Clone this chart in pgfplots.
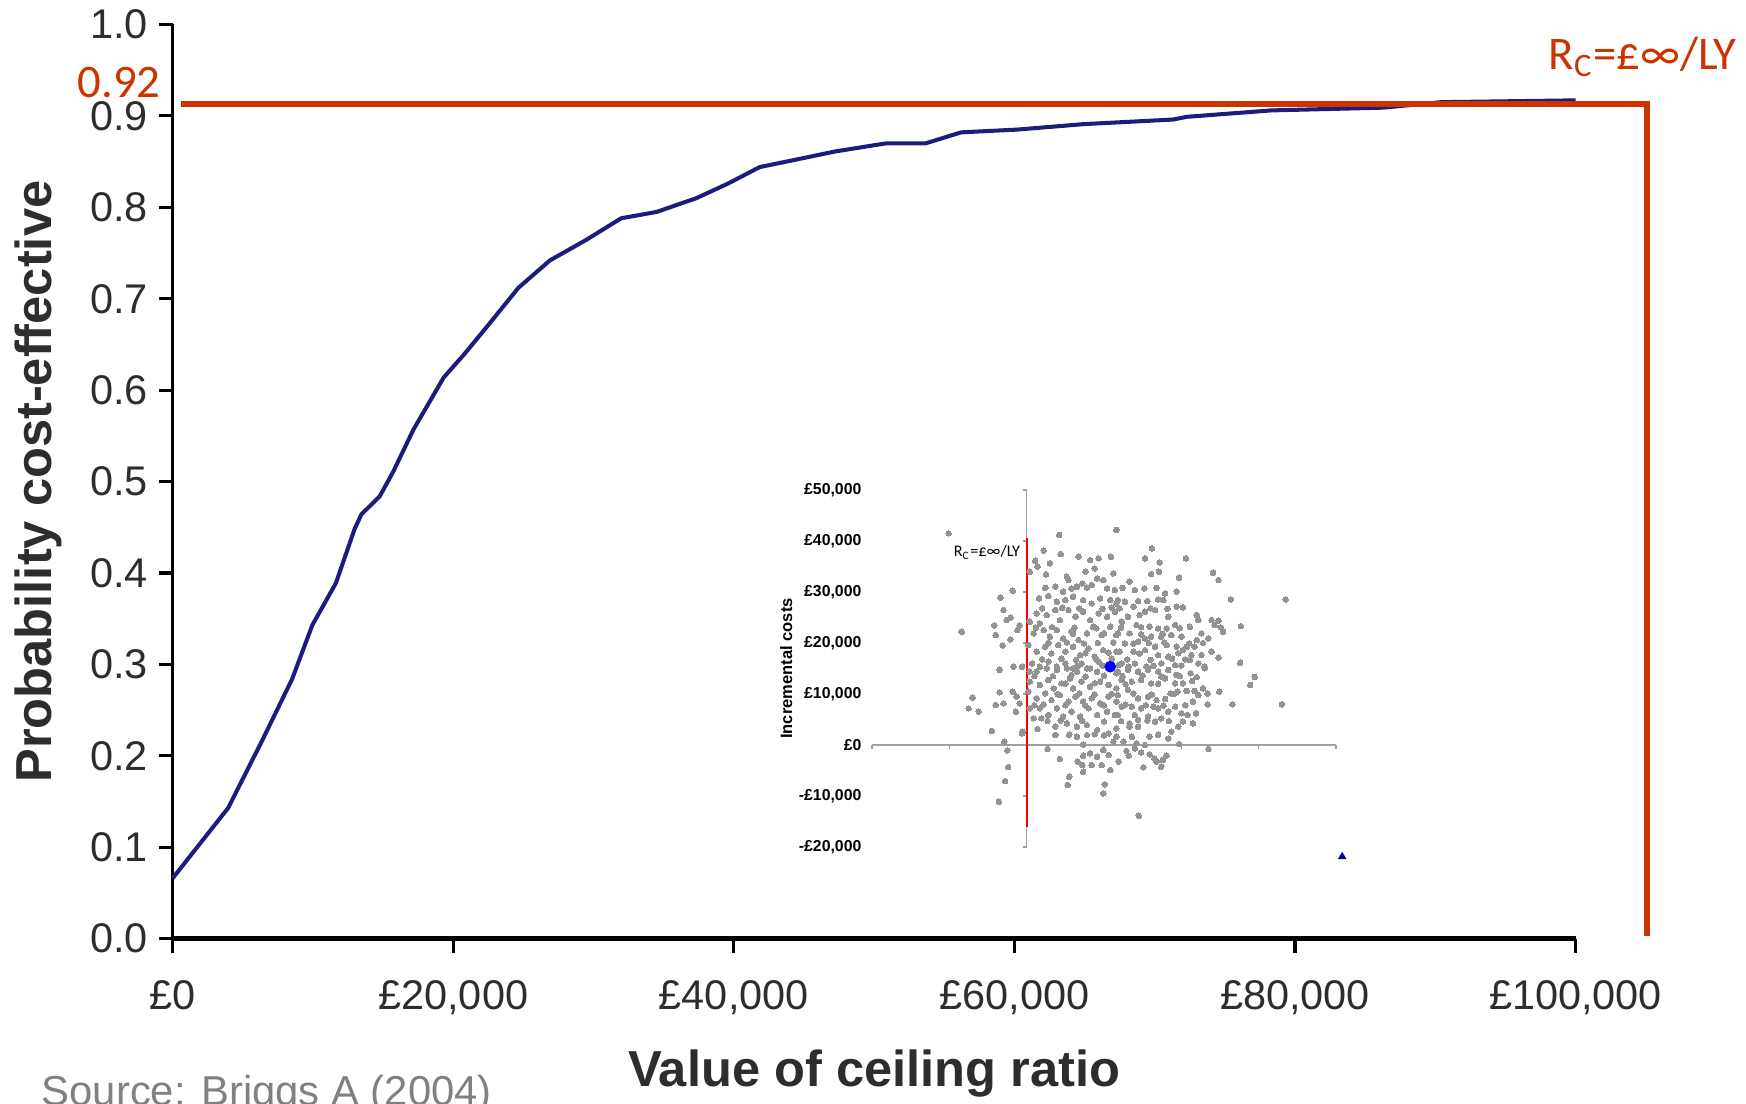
\documentclass[border=0pt]{standalone}
\usepackage{pgfplots}
\pgfplotsset{compat=1.18}
\usepackage{pgfplotstable}
\usepackage{fontspec}
\setmainfont{Liberation Sans}
\newfontfamily\calibri{Carlito}
\definecolor{curve}{RGB}{28,28,125}
\definecolor{refred}{RGB}{204,51,0}
\definecolor{insetred}{RGB}{255,0,0}
\definecolor{ptgray}{RGB}{145,148,145}
\definecolor{axgray}{RGB}{160,160,160}
\definecolor{tickgray}{RGB}{45,45,45}
\definecolor{srcgray}{RGB}{128,128,128}

\pgfplotstableread{
x y
0 0.066
3960 0.143
6360 0.216
8520 0.284
9960 0.343
11640 0.389
12970 0.448
13450 0.464
14770 0.484
15730 0.511
17170 0.557
19330 0.614
20770 0.639
22330 0.668
24650 0.712
26900 0.742
29440 0.764
31970 0.788
34510 0.795
37330 0.810
39590 0.826
41840 0.844
44380 0.852
47190 0.861
50860 0.870
53680 0.870
56210 0.882
60180 0.885
64950 0.891
71300 0.896
72300 0.899
78300 0.906
86260 0.909
90400 0.915
100000 0.917
}\ceac

\pgfplotstableread{
x y
-1.01 41500
-0.84 22200
-0.34 28880
-0.18 30250
-0.30 26460
-0.21 24960
-0.42 23450
-0.40 21560
-0.31 19530
-0.12 22540
-0.09 23450
-0.21 20710
-0.17 15340
-0.35 14820
-0.06 15340
-0.26 24500
0.42 41180
1.16 42160
0.22 38100
0.44 37450
0.67 36930
0.82 36270
0.93 36600
1.09 36930
0.11 36140
0.14 34960
0.04 33980
0.25 33460
0.30 35620
0.52 33000
0.76 33980
0.88 34640
0.99 32350
1.12 33660
0.37 31040
0.54 32350
0.65 31040
0.72 31690
0.84 31370
0.91 32670
1.04 30710
1.14 30390
0.16 28750
0.28 29210
0.39 28100
0.47 30060
0.50 28420
0.60 29080
0.73 28420
0.84 27770
0.95 28750
1.08 28420
1.16 27770
0.13 25810
0.04 24170
0.17 23850
0.26 25480
0.37 26460
0.43 24500
0.54 26460
0.63 25150
0.73 26140
0.82 24500
0.93 25810
1.04 25150
1.14 26140
0.09 21890
0.22 22540
0.30 21230
0.39 22540
0.47 20900
0.58 22210
0.67 20580
0.78 21890
0.86 23190
0.97 21560
1.08 23190
1.16 21560
0.02 19600
0.13 18290
0.24 19270
0.32 17960
0.41 19600
0.50 18290
0.60 19270
0.69 17630
0.80 18940
0.88 17310
0.99 18610
1.16 18290
0.07 15990
0.17 15340
0.28 16320
0.39 15340
0.50 15990
0.60 15020
0.71 15990
0.82 15020
0.93 16320
1.19 15670
1.62 38560
1.53 36600
1.72 35810
2.06 36600
1.61 33530
1.71 33980
2.41 33790
2.48 32350
1.33 32020
1.97 32810
1.40 30390
1.79 29730
1.94 30060
2.64 28550
3.35 28550
1.18 28420
1.27 28100
1.44 28230
1.56 28230
1.70 28550
1.77 28420
1.94 27120
2.02 26990
1.20 26790
1.38 27120
1.66 26460
1.53 26140
1.31 25150
1.46 25480
1.83 25150
2.20 25480
2.22 24500
2.39 24500
2.48 24370
1.23 24170
1.42 23520
1.59 23190
1.70 22860
1.81 22860
1.92 23520
2.11 23190
2.43 23520
2.51 23060
2.54 22210
2.77 23320
1.18 21890
1.33 21890
1.53 20900
1.61 21230
1.74 21230
1.87 21560
2.00 21230
2.20 20580
2.35 20900
1.27 19920
1.44 20250
1.66 19270
1.81 19600
1.94 19270
2.07 19270
2.17 19270
1.20 18290
1.38 18290
1.53 18610
1.70 17630
1.83 17310
2.02 18610
2.13 17630
2.26 17630
2.39 18290
2.48 17170
2.76 16130
1.23 15990
1.40 15990
1.55 15340
1.74 15990
1.92 15670
2.11 16650
2.22 15990
2.30 15340
-0.35 14710
-0.17 15360
-0.70 9280
-0.75 7190
-0.62 6530
-0.35 10330
-0.40 7840
-0.30 8170
-0.18 10460
-0.13 9480
-0.09 8170
-0.14 6530
-0.45 2740
-0.06 2280
-0.29 650
-0.25 -1050
-0.24 -4320
-0.28 -7070
-0.36 -11120
0.04 14380
0.13 14380
0.26 15040
0.39 14710
0.52 15040
0.65 14380
0.78 15040
0.91 14380
1.16 14060
0.04 12420
0.17 11770
0.28 12750
0.35 11110
0.45 12090
0.56 13070
0.60 11110
0.71 12420
0.82 11440
0.95 12420
1.06 11770
1.16 11110
0.02 10460
0.13 9150
0.24 10130
0.32 8820
0.43 9800
0.54 8500
0.63 9480
0.73 8500
0.84 9150
0.95 8170
1.06 9480
1.16 8500
0.04 7190
0.17 7190
0.28 5880
0.39 7190
0.47 5550
0.58 6530
0.69 5550
0.80 7190
0.91 5880
1.04 6530
1.14 5880
0.09 5230
0.14 3130
0.19 5230
0.37 3590
0.52 4250
0.65 3590
0.78 3920
0.91 2940
1.06 2280
1.16 3260
-0.05 2610
0.37 1960
0.65 1630
0.78 1960
1.12 650
0.27 -790
0.43 -2750
0.73 80
0.82 -1640
0.73 -2100
0.66 -3280
0.72 -3930
0.73 -5240
0.84 -3930
0.91 -2290
0.99 -990
1.06 -1970
0.97 -3930
1.08 -4910
0.55 -6220
0.53 -7850
1.01 -7720
0.99 -9490
2.30 15040
2.12 14060
2.95 13340
2.89 11770
1.18 14380
1.31 14710
1.44 14380
1.57 14710
1.70 14380
1.83 14710
1.94 13730
1.23 12750
1.36 12420
1.48 12750
1.61 12090
1.79 13070
1.92 12090
2.14 12550
2.28 11110
2.17 10590
2.07 10590
1.95 10460
1.86 10130
2.49 10460
2.34 10070
1.18 9800
1.31 10790
1.44 9150
1.57 9480
1.68 8820
1.79 9020
2.15 8500
2.34 7970
2.66 7970
3.30 7970
1.23 7520
1.36 7520
1.48 7190
1.64 7520
1.70 7190
1.83 6530
1.92 7520
2.00 6210
2.08 5880
2.19 6210
1.18 5880
1.40 5880
1.57 5550
1.74 5230
1.96 3590
2.15 4250
1.33 4250
1.44 4900
1.66 4570
1.33 3590
1.44 3590
1.87 2610
1.16 1630
1.36 1630
1.59 1630
1.83 1300
1.25 650
1.42 320
1.53 0
1.97 190
2.35 -790
1.29 -1180
1.40 -660
1.48 -1450
1.59 -1840
1.32 -2100
1.65 -2620
1.68 -3280
1.81 -2100
1.76 -2950
1.19 -3280
1.51 -4390
1.74 -4260
1.45 -13870
0.10 13500
0.34 13500
0.58 13700
0.76 13400
1.00 13600
1.24 13500
1.50 13600
1.74 13400
1.98 13500
2.20 13300
0.20 16800
0.45 16900
0.64 16700
0.90 16800
1.10 16900
1.30 16800
1.60 16700
1.88 16900
2.05 16800
0.28 20000
0.52 20100
0.74 19900
0.92 20000
1.12 20100
1.38 19900
1.58 20000
1.78 20100
2.10 19900
2.28 20000
0.12 23000
0.33 23100
0.62 23000
0.90 22900
1.22 23000
1.48 23100
1.98 22900
0.40 10000
0.68 10100
0.88 9900
1.10 10000
1.38 10100
1.62 9900
1.90 10000
2.22 9800
0.10 7800
0.22 7900
0.50 7800
0.76 7700
1.00 7800
1.28 7900
1.54 7800
1.77 7700
2.05 7800
0.27 4700
0.44 4800
0.72 4700
1.00 4600
1.22 4700
1.56 4800
1.84 4700
2.02 4600
0.20 26800
0.46 26900
0.68 26800
0.98 26700
1.10 26900
1.60 26800
1.82 26700
0.24 30800
0.58 30700
0.78 30900
1.24 30800
1.52 30700
1.68 30800
0.55 2000
0.88 2100
1.00 1900
1.70 2000
0.50 12000
0.88 12100
1.28 11900
1.70 12000
2.02 12100
0.76 18000
1.06 18100
1.46 17900
1.96 18000
0.60 21800
1.00 21900
1.48 21700
1.76 21800
2.26 21900
0.66 15500
0.98 15600
1.32 15400
1.64 15500
2.00 15600
}\scatter

\begin{document}
\begin{tikzpicture}
\begin{axis}[
  scale only axis,
  width=14.03cm, height=9.142cm,
  xmin=0, xmax=100000, ymin=0, ymax=1,
  axis x line=bottom, axis y line=left,
  axis line style={-, black, line width=0.9pt},
  x axis line style={line width=1.3pt},
  tick align=outside,
  major tick length=0.14cm,
  tick style={black, line width=0.9pt},
  scaled x ticks=false,
  xtick={0,20000,40000,60000,80000,100000},
  xticklabels={{£0},{£20,000},{£40,000},{£60,000},{£80,000},{£100,000}},
  ytick={0,0.1,0.2,0.3,0.4,0.5,0.6,0.7,0.8,0.9,1},
  yticklabels={0.0,0.1,0.2,0.3,0.4,0.5,0.6,0.7,0.8,0.9,1.0},
  ticklabel style={font=\fontsize{11.8}{14}\selectfont, text=tickgray},
  xticklabel style={anchor=north, yshift=-4.5pt},
  yticklabel style={anchor=east, xshift=0.5pt},
  xlabel={Value of ceiling ratio},
  ylabel={Probability cost-effective},
  label style={font=\bfseries\fontsize{14.4}{17}\selectfont, text=tickgray},
  xlabel style={at={(axis description cs:0.5,-0.162)}, anchor=base},
  ylabel style={at={(axis description cs:-0.096,0.5)}, anchor=center, rotate=0},
  clip=false,
]
\addplot[curve, line width=1.15pt, line join=round] table {\ceac};
\addplot[refred, line width=1.8pt, line join=miter] coordinates {(634,0.913) (105100,0.913) (105100,0.003)};
\node[inner sep=0pt, anchor=base east, text=refred, font=\calibri\fontsize{13.3}{16}\selectfont] at (axis cs:-800,0.92) {0.92};
\node[inner sep=0pt, anchor=base west, text=refred, font=\calibri\fontsize{13.3}{16}\selectfont] at (axis cs:98030,0.951) {R\textsubscript{C}=£∞/LY};
\node[inner sep=0pt, anchor=base west, text=srcgray, font=\fontsize{11.9}{14}\selectfont] at (axis cs:-9380,-0.1825) {Source: Briggs A (2004)};
\end{axis}

\begin{axis}[
  at={(6.994cm,0.917cm)}, anchor=south west,
  scale only axis,
  width=4.64cm, height=3.57cm,
  xmin=-2, xmax=4, ymin=-20000, ymax=50000,
  axis line style={draw=none},
  xtick=\empty,
  ytick={-20000,-10000,0,10000,20000,30000,40000,50000},
  yticklabels={{-£20,000},{-£10,000},{£0},{£10,000},{£20,000},{£30,000},{£40,000},{£50,000}},
  ytick pos=left,
  major tick length=0pt,
  tick style={draw=none},
  yticklabel style={font=\bfseries\fontsize{4.5}{5}\selectfont, anchor=east, xshift=0.5pt},
  scaled y ticks=false,
  ylabel={Incremental costs},
  ylabel style={font=\bfseries\fontsize{4.7}{5.5}\selectfont, at={(axis description cs:-0.185,0.5)}, anchor=center},
  clip=false,
]
\draw[axgray, line width=0.35pt] (axis cs:-2,0) -- (axis cs:4,0);
\draw[axgray, line width=0.35pt] (axis cs:0,-20000) -- (axis cs:0,50000);
\pgfplotsinvokeforeach{-2,-1,1,2,3,4}{\draw[axgray, line width=0.35pt] (axis cs:#1,0) -- (axis cs:#1,-750);}
\pgfplotsinvokeforeach{-20000,-10000,10000,20000,30000,40000,50000}{\draw[axgray, line width=0.35pt] (axis cs:0,#1) -- (axis cs:-0.05,#1);}
\addplot[only marks, mark=*, mark size=0.8pt, mark options={draw=ptgray, fill=ptgray, line width=0pt}] table {\scatter};
\addplot[insetred, line width=0.6pt] coordinates {(0,-16000) (0,40500)};
\addplot[only marks, mark=*, mark size=1.45pt, mark options={draw=blue, fill=blue}] coordinates {(1.08,15350)};
\addplot[only marks, mark=triangle*, mark size=1pt, mark options={draw=blue!60!black, fill=blue!60!black}] coordinates {(4.08,-21900)};
\node[inner sep=0pt, anchor=west, font=\calibri\fontsize{4.6}{5.5}\selectfont] at (axis cs:-0.95,37780) {R\textsubscript{C}=£∞/LY};
\end{axis}
\pgfresetboundingbox
\useasboundingbox (-1.726,-1.653) rectangle (15.734,9.387);
\end{tikzpicture}
\end{document}
